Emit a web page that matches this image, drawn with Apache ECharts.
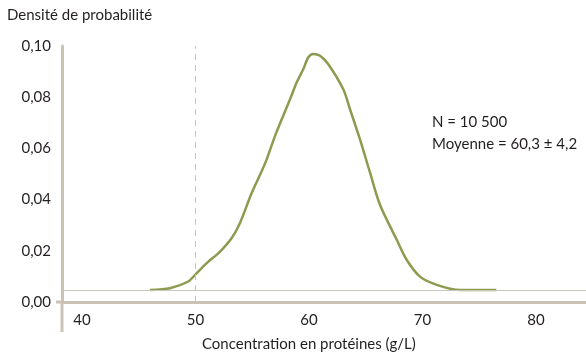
<!DOCTYPE html>
<html lang="fr">
<head>
<meta charset="UTF-8">
<title>Densité</title>
<style>
  html, body { margin: 0; padding: 0; background: #fff; }
  #chart { width: 586px; height: 354px; }
</style>
<script src="https://cdn.jsdelivr.net/npm/echarts@6/dist/echarts.min.js"></script>
</head>
<body>
<div id="chart"></div>
<script>
// courbe de densité (concentration g/L, densité)
var concentration = [46.0, 47.75, 49.37, 49.96, 50.99, 52.16, 53.19, 53.92, 54.95, 55.83, 56.27, 57.0, 57.6, 58.33, 58.92, 59.5, 59.94, 60.38, 60.97, 61.7, 63.02, 63.61, 64.49, 65.37, 66.25, 67.73, 68.6, 69.78, 71.25, 73.3, 76.5];
var densite = [0.0047, 0.0054, 0.0080, 0.0106, 0.0152, 0.0197, 0.0250, 0.0309, 0.0426, 0.0511, 0.0557, 0.0648, 0.0714, 0.0792, 0.0858, 0.0910, 0.0956, 0.0969, 0.0962, 0.0929, 0.0831, 0.0753, 0.0635, 0.0506, 0.0380, 0.0243, 0.0165, 0.0099, 0.0067, 0.0047, 0.0047];
var xTicks = [40, 50, 60, 70, 80];
var seuil = 50;
var ligneBasse = 0.0044;

var font = 'Lato';
var axisColor = '#cbc2b6';
var xMin = 38.24, xMax = 84.4;

var chart = echarts.init(document.getElementById('chart'));

var points = concentration.map(function (c, i) { return [c, densite[i]]; });

var option = {
    animation: false,
    textStyle: { fontFamily: font },
    title: {
        text: 'Densité de probabilité',
        left: 7,
        top: 8,
        padding: 0,
        textStyle: { fontFamily: font, fontSize: 15, fontWeight: 'normal', color: '#231f20' }
    },
    grid: { left: 62, right: 0, top: 46, bottom: 52 },
    xAxis: {
        type: 'value',
        min: xMin,
        max: xMax,
        axisLine: { show: true, onZero: false, lineStyle: { color: axisColor, width: 3 } },
        axisTick: { show: false },
        splitLine: { show: false },
        axisLabel: {
            customValues: xTicks,
            margin: 11,
            fontSize: 15,
            color: '#231f20',
            fontFamily: font
        }
    },
    yAxis: {
        type: 'value',
        min: 0,
        max: 0.1,
        interval: 0.02,
        axisLine: { show: true, lineStyle: { color: axisColor, width: 3 } },
        axisTick: { show: false },
        splitLine: { show: false },
        axisLabel: {
            margin: 11,
            fontSize: 15,
            color: '#231f20',
            fontFamily: font,
            formatter: function (v) { return v.toFixed(2).replace('.', ','); }
        }
    },
    series: [{
        type: 'line',
        data: points,
        smooth: 0.3,
        showSymbol: false,
        z: 3,
        lineStyle: { color: '#8b9b4f', width: 2.5 },
        markLine: {
            silent: true,
            symbol: 'none',
            label: { show: false },
            data: [
                { xAxis: seuil, lineStyle: { color: '#cdc2bb', type: [6, 5], width: 1 } },
                [
                    { coord: [xMin, ligneBasse], lineStyle: { color: '#c9c5bc', type: 'solid', width: 1.2 } },
                    { coord: [xMax, ligneBasse] }
                ]
            ]
        }
    }],
    graphic: [
        { type: 'line', shape: { x1: 62, y1: 302, x2: 62, y2: 332 }, style: { stroke: axisColor, lineWidth: 3 } },
        { type: 'line', shape: { x1: 56, y1: 302, x2: 62, y2: 302 }, style: { stroke: axisColor, lineWidth: 3 } },
        { type: 'text', left: 202, top: 337, style: { text: 'Concentration en protéines (g/L)', font: '15px ' + font, fill: '#231f20' } },
        { type: 'text', left: 432, top: 115, style: { text: 'N = 10 500', font: '15px ' + font, fill: '#231f20' } },
        { type: 'text', left: 432, top: 137, style: { text: 'Moyenne = 60,3 ± 4,2', font: '15px ' + font, fill: '#231f20' } }
    ]
};

chart.setOption(option);
</script>
</body>
</html>
